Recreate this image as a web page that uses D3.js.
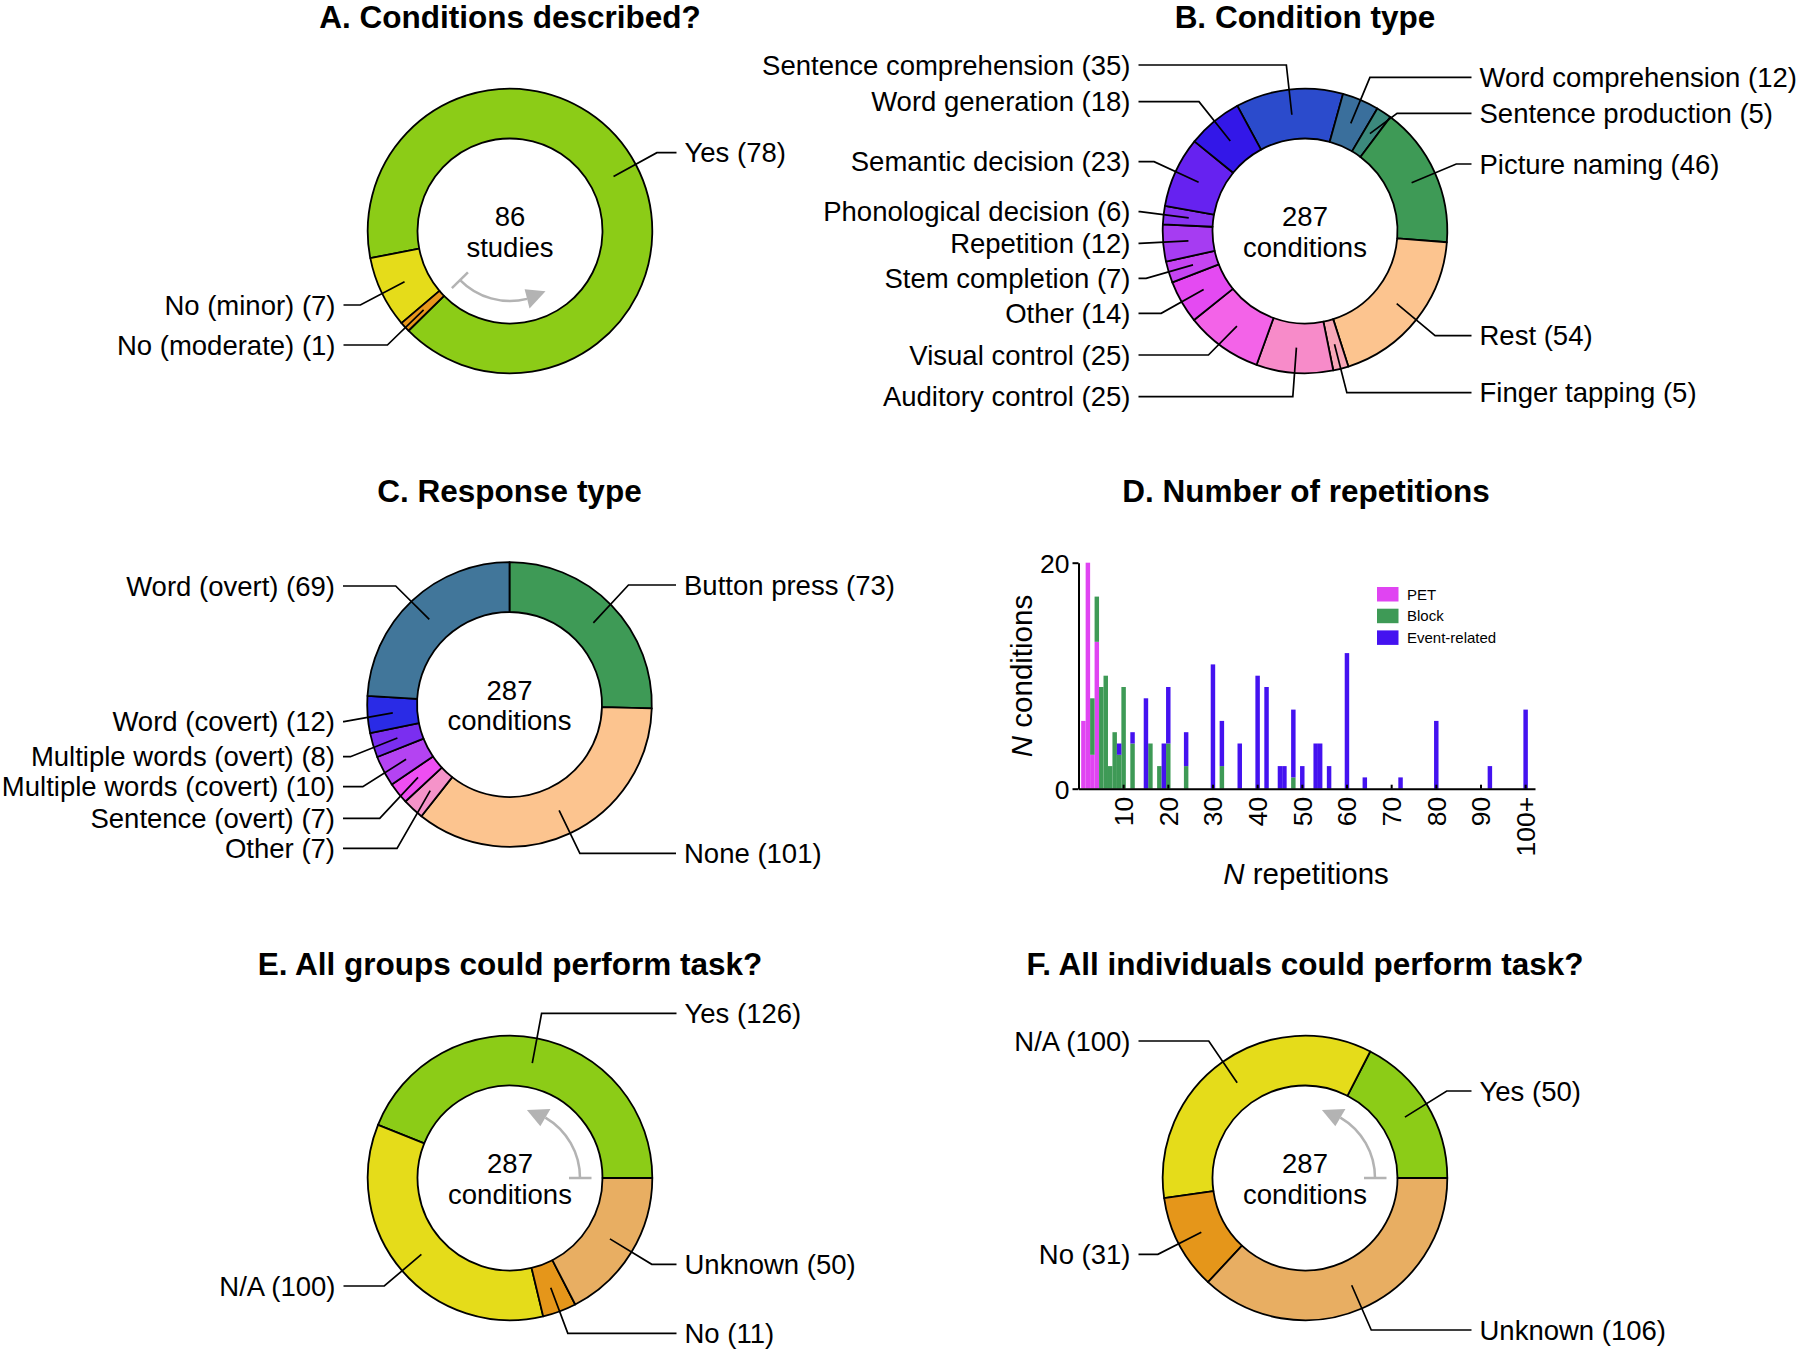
<!DOCTYPE html>
<html><head><meta charset="utf-8">
<script src="https://cdn.jsdelivr.net/npm/d3@7"></script>
<style>
body{margin:0;background:#fff}
svg{display:block}
text{font-family:"Liberation Sans",Arial,Helvetica,sans-serif;fill:#000}
</style>
</head><body>
<svg id="chart" width="1800" height="1353"></svg>
<script>
// ---------- DATA ----------
const aLabels = ["Yes", "No (minor)", "No (moderate)"];
const aValues = [78, 7, 1];
const aColors = ["#8ccc17", "#e5dc1a", "#e8961c"];

const bLabels = ["Sentence comprehension", "Word comprehension", "Sentence production", "Picture naming", "Rest",
  "Finger tapping", "Auditory control", "Visual control", "Other", "Stem completion", "Repetition",
  "Phonological decision", "Semantic decision", "Word generation"];
const bValues = [35, 12, 5, 46, 54, 5, 25, 25, 14, 7, 12, 6, 23, 18];
const bColors = ["#2b4bcc", "#3a6f9c", "#3c8a7d", "#3e9a56", "#fcc48f", "#f8a8b8", "#f78bc9", "#f363e8",
  "#e44af2", "#c544f2", "#a63cf2", "#8833f2", "#6622f0", "#3317e8"];

const cLabels = ["Button press", "None", "Other", "Sentence (overt)", "Multiple words (covert)",
  "Multiple words (overt)", "Word (covert)", "Word (overt)"];
const cValues = [73, 101, 7, 7, 10, 8, 12, 69];
const cColors = ["#3e9a56", "#fcc48f", "#f593c9", "#ee4ef2", "#b443f2", "#7a2ef0", "#2a2be6", "#41769a"];

const eLabels = ["Yes", "N/A", "No", "Unknown"];
const eValues = [126, 100, 11, 50];
const fLabels = ["Yes", "N/A", "No", "Unknown"];
const fValues = [50, 100, 31, 106];
const efColors = ["#8ccc17", "#e5dc1a", "#e5961a", "#e8ae62"];

// Histogram (panel D)
const repetitions = [1, 2, 3, 4, 5, 6, 7, 8, 9, 10, 12, 15, 16, 18, 19, 20, 24, 30, 32, 36, 40, 42, 45, 46, 48, 50, 53, 54, 56, 60, 64, 72, 80, 92, 100];
const petCounts   = [6, 20, 3, 13, 0, 0, 0, 0, 0, 0, 0, 0, 0, 0, 0, 0, 0, 0, 0, 0, 0, 0, 0, 0, 0, 0, 0, 0, 0, 0, 0, 0, 0, 0, 0];
const blockCounts = [0, 0, 5, 4, 9, 10, 2, 5, 3, 9, 4, 0, 4, 2, 0, 4, 2, 0, 2, 0, 0, 0, 0, 0, 1, 0, 0, 0, 0, 0, 0, 0, 0, 0, 0];
const eventCounts = [0, 0, 0, 0, 0, 0, 0, 0, 1, 0, 1, 8, 0, 0, 4, 5, 3, 11, 4, 4, 10, 9, 2, 2, 6, 2, 4, 4, 2, 12, 1, 1, 6, 2, 7];
const histKeys = ["PET", "Block", "Event-related"];
const histColors = ["#e044f2", "#3e9a56", "#4412f0"];
const xTickValues = [10, 20, 30, 40, 50, 60, 70, 80, 90, 100];
const xTickLabels = ["10", "20", "30", "40", "50", "60", "70", "80", "90", "100+"];
const yTickValues = [0, 20];

// ---------- LAYOUT (annotation positions, relative to donut centre) ----------
const aLabelDy = [-78.3, 74, 114];
const bLabelDy = [-166, -153.7, -117.7, -67, 104.7, 161.7, 165.7, 124, 82.3, 47.3, 12.3, -19.3, -69.3, -129.3];
const cLabelDy = [-119.5, 148.8, 143.8, 113.8, 82.2, 52.2, 17.2, -118.5];
const eLabelDy = [-164.7, 108, 155.3, 86.3];
const fLabelDy = [-87, -137, 76.3, 152];

const svg = d3.select("#chart");
const RAD = Math.PI / 180;
const R_OUT = 142.3, R_IN = 92.5, R_LEAD = 117, R_ELB = 166, H_END = 166.5, TXT_GAP = 8;
const FS = 27.5;

const panels = [
  {title: "A. Conditions described?", cx: 510, cy: 231, labels: aLabels, values: aValues, colors: aColors,
   start: 225.5, dir: -1, center: ["86", "studies"], dy: aLabelDy, arrow: [225.5, 149.5]},
  {title: "B. Condition type", cx: 1305, cy: 231, labels: bLabels, values: bValues, colors: bColors,
   start: -28.4, dir: 1, center: ["287", "conditions"], dy: bLabelDy},
  {title: "C. Response type", cx: 509.5, cy: 704.5, labels: cLabels, values: cValues, colors: cColors,
   start: 0, dir: 1, center: ["287", "conditions"], dy: cLabelDy},
  {title: "E. All groups could perform task?", cx: 510, cy: 1178, labels: eLabels, values: eValues, colors: efColors,
   start: 90, dir: -1, center: ["287", "conditions"], dy: eLabelDy, arrow: [90, 14]},
  {title: "F. All individuals could perform task?", cx: 1305, cy: 1178, labels: fLabels, values: fValues, colors: efColors,
   start: 90, dir: -1, center: ["287", "conditions"], dy: fLabelDy, arrow: [90, 14]}
];

function title(x, y, t) {
  svg.append("text").attr("x", x).attr("y", y).attr("text-anchor", "middle")
    .attr("font-size", 31.5).attr("font-weight", "bold").text(t);
}

panels.forEach(p => {
  title(p.cx, p.cy - 203, p.title);
  const g = svg.append("g").attr("transform", `translate(${p.cx},${p.cy})`);
  const pie = d3.pie().sort(null).value(d => d)
    .startAngle(p.start * RAD).endAngle((p.start + p.dir * 360) * RAD);
  const arcs = pie(p.values);
  const arc = d3.arc().innerRadius(R_IN).outerRadius(R_OUT);
  g.selectAll("path.slice").data(arcs).join("path").attr("class", "slice")
    .attr("d", arc).attr("fill", (d, i) => p.colors[i])
    .attr("stroke", "#000").attr("stroke-width", 1.8).attr("stroke-linejoin", "round");

  // leader lines & labels
  arcs.forEach((d, i) => {
    const m = (d.startAngle + d.endAngle) / 2;
    const sx = Math.sin(m), sy = -Math.cos(m);
    const left = sx < 0;
    const ly = p.dy[i];
    const p0 = [R_LEAD * sx, R_LEAD * sy];
    const p1 = [R_ELB * sx, ly];
    const p2 = [left ? -H_END : H_END, ly];
    g.append("path").attr("d", d3.line()([p0, p1, p2]))
      .attr("fill", "none").attr("stroke", "#000").attr("stroke-width", 1.7);
    g.append("text")
      .attr("x", left ? -H_END - TXT_GAP : H_END + TXT_GAP)
      .attr("y", ly + 9.5)
      .attr("text-anchor", left ? "end" : "start")
      .attr("font-size", FS)
      .text(`${p.labels[i]} (${p.values[i]})`);
  });

  // centre text
  g.append("text").attr("x", 0).attr("y", -5).attr("text-anchor", "middle").attr("font-size", FS).text(p.center[0]);
  g.append("text").attr("x", 0).attr("y", 25.5).attr("text-anchor", "middle").attr("font-size", FS).text(p.center[1]);

  // direction arrow
  if (p.arrow) {
    const [a0, a1] = p.arrow;
    const r = 70, head = 20 / r / RAD; // degrees
    const sgn = a1 < a0 ? -1 : 1;
    const a1b = a1 - sgn * head;
    const pt = (a, rr) => [rr * Math.sin(a * RAD), -rr * Math.cos(a * RAD)];
    const path = d3.path();
    path.arc(0, 0, r, (a0 - 90) * RAD, (a1b - 90) * RAD, sgn < 0);
    const col = "#b3b3b3";
    g.append("path").attr("d", path.toString()).attr("fill", "none").attr("stroke", col).attr("stroke-width", 2.5);
    g.append("path").attr("d", d3.line()([pt(a0, 59), pt(a0, 81.5)])).attr("stroke", col).attr("stroke-width", 2.5);
    g.append("path").attr("d", d3.line()([pt(a1, r), pt(a1b, r - 10), pt(a1b, r + 10)]) + "Z").attr("fill", col);
  }
});

// ---------- PANEL D: histogram ----------
title(1306, 501.5, "D. Number of repetitions");
const x = d3.scaleLinear().domain([0, 102.2]).range([1078.5, 1535]);
const y = d3.scaleLinear().domain([0, 20]).range([788.7, 562.7]);
const histRows = repetitions.map((n, i) => ({n, "PET": petCounts[i], "Block": blockCounts[i], "Event-related": eventCounts[i]}));
const stack = d3.stack().keys(histKeys)(histRows);
const bw = x(1) - x(0);
const hg = svg.append("g");
stack.forEach((layer, k) => {
  hg.append("g").attr("fill", histColors[k]).selectAll("rect").data(layer).join("rect")
    .attr("x", d => x(d.data.n - 0.4)).attr("width", bw)
    .attr("y", d => y(d[1])).attr("height", d => y(d[0]) - y(d[1]));
});

const xAxis = svg.append("g").attr("transform", `translate(0,${y(0)})`)
  .call(d3.axisBottom(x).tickValues(xTickValues).tickFormat((d, i) => xTickLabels[i]).tickSizeInner(-4).tickSizeOuter(0));
xAxis.select(".domain").attr("stroke", "#000").attr("stroke-width", 2);
xAxis.selectAll(".tick line").attr("stroke", "#000").attr("stroke-width", 2);
xAxis.selectAll(".tick text")
  .attr("font-family", '"Liberation Sans",Arial,sans-serif').attr("font-size", 26.5).attr("fill", "#000")
  .attr("transform", "rotate(-90)").attr("text-anchor", "end")
  .attr("x", -8).attr("y", 0).attr("dy", "0.35em");

const yAxis = svg.append("g").attr("transform", `translate(${x(0)},0)`)
  .call(d3.axisLeft(y).tickValues(yTickValues).tickSizeInner(6).tickSizeOuter(0));
yAxis.select(".domain").attr("stroke", "#000").attr("stroke-width", 2);
yAxis.selectAll(".tick line").attr("stroke", "#000").attr("stroke-width", 2);
yAxis.selectAll(".tick text")
  .attr("font-family", '"Liberation Sans",Arial,sans-serif').attr("font-size", 26.5).attr("fill", "#000")
  .attr("x", -9).attr("dy", "0.36em");

// axis titles
const yt = svg.append("text").attr("transform", "translate(1032,676) rotate(-90)")
  .attr("text-anchor", "middle").attr("font-size", 29.5);
yt.append("tspan").attr("font-style", "italic").text("N");
yt.append("tspan").text(" conditions");
const xt = svg.append("text").attr("x", 1306).attr("y", 884).attr("text-anchor", "middle").attr("font-size", 29.5);
xt.append("tspan").attr("font-style", "italic").text("N");
xt.append("tspan").text(" repetitions");

// legend
const lg = svg.append("g").attr("transform", "translate(1377,587)");
histKeys.forEach((k, i) => {
  lg.append("rect").attr("x", 0).attr("y", i * 21.7).attr("width", 21.5).attr("height", 14.5).attr("fill", histColors[i]);
  lg.append("text").attr("x", 30).attr("y", i * 21.7 + 12.5).attr("font-size", 15).text(k);
});
</script>
</body></html>
